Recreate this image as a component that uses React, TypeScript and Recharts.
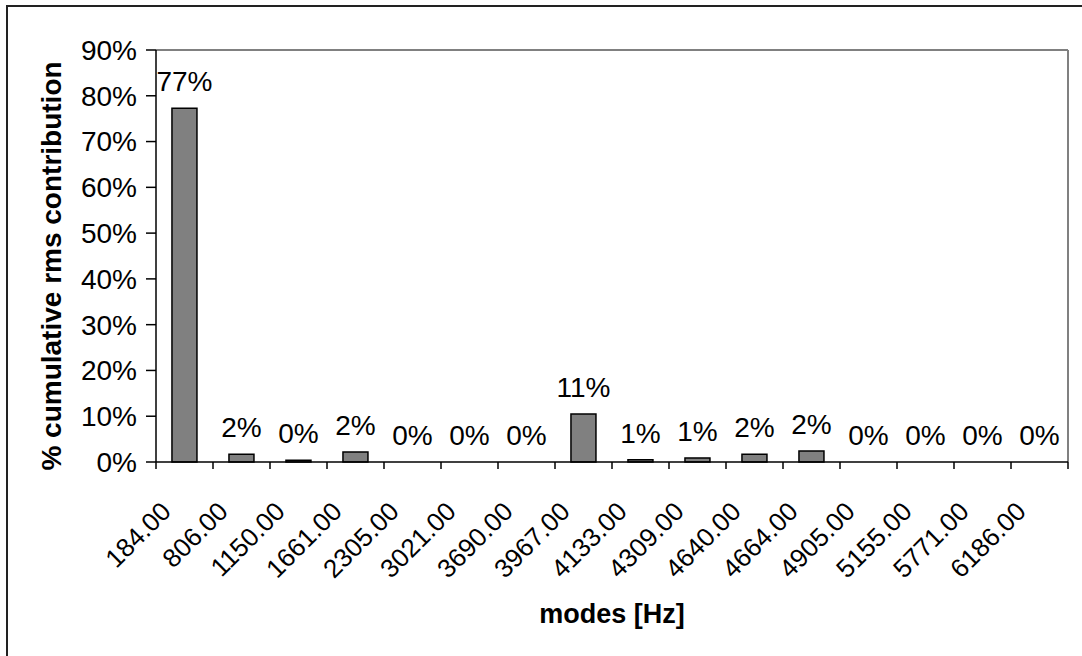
import { Bar, ComposedChart, LabelList, Line, ReferenceLine, XAxis, YAxis } from 'recharts';

const modes = [
  '184.00', '806.00', '1150.00', '1661.00', '2305.00', '3021.00', '3690.00', '3967.00',
  '4133.00', '4309.00', '4640.00', '4664.00', '4905.00', '5155.00', '5771.00', '6186.00',
];
const contribution = [77.3, 1.7, 0.4, 2.2, 0, 0, 0, 10.5, 0.5, 0.9, 1.7, 2.4, 0, 0, 0, 0];
const yTicks = [0, 10, 20, 30, 40, 50, 60, 70, 80, 90];

const data = modes.map((mode, i) => ({ mode, value: contribution[i] }));

const W = 1082;
const H = 656;
const PLOT_LEFT = 156;
const PLOT_RIGHT = 14;
const PLOT_TOP = 50;
const PLOT_BOTTOM = 462;
const BAND = (W - PLOT_LEFT - PLOT_RIGHT) / modes.length;
const FONT = '"Liberation Sans", Arial, sans-serif';

// ticks sit on the category boundaries, labels rotated 45deg
const XTick = (props: any) => {
  const { x, y, payload, index } = props;
  const left = x - BAND / 2;
  const ax = x - 12;
  const ay = y + 51;
  return (
    <g>
      <line stroke="#000" strokeWidth={1.5} x1={left} x2={left} y1={y} y2={y + 7} />
      {index === modes.length - 1 && (
        <line stroke="#000" strokeWidth={1.5} x1={left + BAND} x2={left + BAND} y1={y} y2={y + 7} />
      )}
      <text
        fill="#000"
        fontFamily={FONT}
        fontSize={26}
        textAnchor="end"
        transform={`rotate(-45 ${ax} ${ay})`}
        x={ax}
        y={ay}
      >
        {payload.value}
      </text>
    </g>
  );
};

export default function App() {
  return (
    <div
      style={{
        background: '#fff',
        height: H,
        left: 0,
        overflow: 'hidden',
        position: 'absolute',
        top: 0,
        width: W,
      }}
    >
      <div
        style={{
          borderLeft: '2px solid #222',
          borderTop: '2px solid #222',
          height: H,
          left: 6,
          position: 'absolute',
          top: 5,
          width: W,
        }}
      />
      <div style={{ left: 0, position: 'absolute', top: 0 }}>
        <ComposedChart
          barCategoryGap="28%"
          data={data}
          height={H}
          margin={{ bottom: 0, left: 0, right: PLOT_RIGHT, top: PLOT_TOP }}
          width={W}
        >
          <ReferenceLine stroke="#808080" strokeWidth={2} y={90} />
          <ReferenceLine position="end" stroke="#808080" strokeWidth={2} x="6186.00" />
          <XAxis
            axisLine={{ stroke: '#000', strokeWidth: 1.5 }}
            dataKey="mode"
            height={H - PLOT_BOTTOM}
            interval={0}
            tick={<XTick />}
            tickLine={false}
            tickMargin={0}
            tickSize={0}
          />
          <YAxis
            axisLine={{ stroke: '#000', strokeWidth: 1.5 }}
            domain={[0, 90]}
            tick={{ fill: '#000', fontFamily: FONT, fontSize: 28 }}
            tickFormatter={(v: number) => `${v}%`}
            tickLine={{ stroke: '#000', strokeWidth: 1.5 }}
            tickMargin={9}
            tickSize={10}
            ticks={yTicks}
            width={PLOT_LEFT}
          />
          <Bar dataKey="value" fill="#808080" isAnimationActive={false} stroke="#000" strokeWidth={1.5} />
          {/* invisible line only to carry the value labels, so 0% bars get one too */}
          <Line
            activeDot={false}
            dataKey="value"
            dot={false}
            isAnimationActive={false}
            stroke="none"
          >
            <LabelList
              dataKey="value"
              fill="#000"
              fontFamily={FONT}
              fontSize={28}
              formatter={(v: any) => `${Math.round(Number(v))}%`}
              offset={17}
              position="top"
            />
          </Line>
        </ComposedChart>
        <svg height={H} style={{ left: 0, pointerEvents: 'none', position: 'absolute', top: 0 }} width={W}>
          <text
            fill="#000"
            fontFamily={FONT}
            fontSize={28}
            fontWeight="bold"
            textAnchor="middle"
            transform="rotate(-90 61 266)"
            x={61}
            y={266}
          >
            % cumulative rms contribution
          </text>
          <text
            fill="#000"
            fontFamily={FONT}
            fontSize={27}
            fontWeight="bold"
            textAnchor="middle"
            x={(PLOT_LEFT + W - PLOT_RIGHT) / 2}
            y={623}
          >
            modes [Hz]
          </text>
        </svg>
      </div>
    </div>
  );
}
